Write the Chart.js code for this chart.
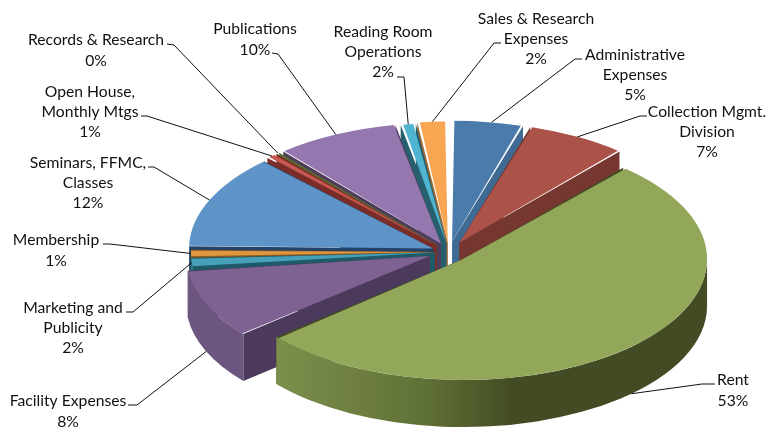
<!DOCTYPE html>
<html>
<head>
<meta charset="utf-8">
<script src="https://cdn.jsdelivr.net/npm/chart.js@4"></script>
<style>
html, body { margin: 0; padding: 0; background: #fff; overflow: hidden; }
canvas { display: block; }
</style>
</head>
<body>
<canvas id="pie" width="776" height="429"></canvas>
<script>
const categories = ["Administrative Expenses", "Collection Mgmt. Division", "Rent", "Facility Expenses",
  "Marketing and Publicity", "Membership", "Seminars, FFMC, Classes", "Open House, Monthly Mtgs",
  "Records & Research", "Publications", "Reading Room Operations", "Sales & Research Expenses"];
const shares = [4.7, 6.7, 52.5, 9.2, 1.25, 1.0, 12.5, 0.8, 0.2, 8.2, 1.0, 2.0];
const percentLabels = ["5%", "7%", "53%", "8%", "2%", "1%", "12%", "1%", "0%", "10%", "2%", "2%"];

const topColors = ["#4b7bab", "#ab5349", "#93a75a", "#7e6292", "#46a0b8", "#e0953f",
  "#5e94c8", "#c6584f", "#9bb05e", "#9477ae", "#50b4d0", "#f9a653"];
const sideColors = ["#3e6a94", "#763731", "#434b24", "#4b3a5c", "#1f5a68", "#8a5a20",
  "#234468", "#7a2d28", "#5a6a30", "#4f3d5e", "#265f6e", "#a06a30"];
const rimColors = ["#3e6a94", "#763731", "#434b24", "#6c5680", "#2e8496", "#b87a30",
  "#3f6f9f", "#7a2d28", "#5a6a30", "#4f3d5e", "#265f6e", "#a06a30"];
const explode = [62, 64, 60, 62, 42, 42, 52, 55, 55, 55, 50, 58];
// back to front
const drawOrder = [0, 11, 10, 9, 1, 8, 7, 6, 5, 4, 3, 2];

const CX = 449, CY = 252, RX = 244, RY = 121, DEPTH = 47;

// one entry per slice, same order as categories. [center x, first line y], elbow points, where the leader meets the rim
const labelLayout = [
  { lines: ["Administrative", "Expenses"], x: 635, y: 55, elbow: [[582, 59], [575, 59]], along: 0.55 },
  { lines: ["Collection Mgmt.", "Division"], x: 707, y: 112, elbow: [[647, 116], [640, 116]], along: 0.5 },
  { lines: ["Rent"], x: 733, y: 380, elbow: [[715, 384], [702, 384]], along: 0.505, low: 1 },
  { lines: ["Facility Expenses"], x: 68, y: 401, elbow: [[128, 405], [137, 405]], along: 0.5, low: 1 },
  { lines: ["Marketing and", "Publicity"], x: 73, y: 308, elbow: [[126, 312], [133, 312]], along: 0.5 },
  { lines: ["Membership"], x: 56, y: 240, elbow: [[103, 244], [110, 244]], along: 0.5 },
  { lines: ["Seminars, FFMC,", "Classes"], x: 88, y: 163, elbow: [[148, 167], [154, 167]], along: 0.5 },
  { lines: ["Open House,", "Monthly Mtgs"], x: 90, y: 92, elbow: [[141, 116], [147, 116]], along: 0.5 },
  { lines: ["Records & Research"], x: 96, y: 40, elbow: [[167, 44], [174, 45]], along: 0.5 },
  { lines: ["Publications"], x: 255, y: 29, elbow: [[272, 53], [278, 54]], along: 0.5 },
  { lines: ["Reading Room", "Operations"], x: 383, y: 32, elbow: [[397, 77], [404, 77]], along: 0.5 },
  { lines: ["Sales & Research", "Expenses"], x: 536, y: 19, elbow: [[501, 43], [494, 43]], along: 0.5 }
];

let baseRadius = 1;

function sliceGeom(el) {
  const sx = RX / baseRadius, sy = RY / baseRadius;
  const o = (el.options.offset || 0) / 4;
  const mid = (el.startAngle + el.endAngle) / 2;
  return {
    sx, sy, a1: el.startAngle, a2: el.endAngle,
    x: CX + sx * Math.cos(mid) * o, y: CY + sy * Math.sin(mid) * o,
    rx: RX, ry: RY
  };
}

function rimPoint(g, a) {
  return [g.x + g.rx * Math.cos(a), g.y + g.ry * Math.sin(a)];
}

function drawWall(ctx, g, a, color) {
  const p = rimPoint(g, a);
  ctx.fillStyle = color;
  ctx.beginPath();
  ctx.moveTo(g.x, g.y);
  ctx.lineTo(p[0], p[1]);
  ctx.lineTo(p[0], p[1] + DEPTH);
  ctx.lineTo(g.x, g.y + DEPTH);
  ctx.closePath();
  ctx.fill();
}

function drawRim(ctx, g, color) {
  const lo = Math.max(g.a1, 0), hi = Math.min(g.a2, Math.PI);
  if (hi <= lo) return;
  ctx.fillStyle = color;
  ctx.beginPath();
  ctx.ellipse(g.x, g.y, g.rx, g.ry, 0, lo, hi);
  ctx.ellipse(g.x, g.y + DEPTH, g.rx, g.ry, 0, hi, lo, true);
  ctx.closePath();
  ctx.fill();
}

const pie3d = {
  id: "pie3d",
  beforeDatasetDraw() {
    return false; // slices get drawn below, tilted
  },
  afterDatasetsDraw(chart) {
    const ctx = chart.ctx;
    const meta = chart.getDatasetMeta(0);
    const arcs = meta.data;
    baseRadius = meta.controller.outerRadius;
    drawOrder.forEach(i => {
      const el = arcs[i];
      const g = sliceGeom(el);
      drawWall(ctx, g, g.a1, sideColors[i]);
      drawWall(ctx, g, g.a2, sideColors[i]);
      let rim = rimColors[i];
      if (i === 2) {
        rim = ctx.createLinearGradient(277, 0, 707, 0);
        rim.addColorStop(0, "#7d8f4c");
        rim.addColorStop(0.35, "#5f7035");
        rim.addColorStop(0.55, "#434b24");
        rim.addColorStop(1, "#434b24");
      }
      drawRim(ctx, g, rim);
      // Chart.js grows an offset arc's radius, take that back out so all slices share one rim
      const o = (el.options.offset || 0) / 4;
      el.outerRadius = baseRadius - o * (1 - Math.sin(Math.min(Math.PI, el.circumference)));
      ctx.save();
      ctx.translate(CX, CY);
      ctx.scale(g.sx, g.sy);
      ctx.translate(-el.x, -el.y);
      el.draw(ctx);
      ctx.restore();
    });
    drawLabels(ctx, arcs);
  }
};

function drawLabels(ctx, arcs) {
  ctx.save();
  ctx.font = "15.7px Lato";
  ctx.textAlign = "center";
  ctx.textBaseline = "middle";
  ctx.fillStyle = "#111";
  ctx.strokeStyle = "#111";
  ctx.lineWidth = 1;
  labelLayout.forEach((lab, i) => {
    const g = sliceGeom(arcs[i]);
    const end = rimPoint(g, g.a1 + (g.a2 - g.a1) * lab.along);
    if (lab.low) end[1] += DEPTH;
    ctx.beginPath();
    ctx.moveTo(lab.elbow[0][0], lab.elbow[0][1]);
    ctx.lineTo(lab.elbow[1][0], lab.elbow[1][1]);
    ctx.lineTo(end[0], end[1]);
    ctx.stroke();
    lab.lines.concat(percentLabels[i]).forEach((t, n) => {
      // percent line sits a little lower than the name lines
      const isPct = n === lab.lines.length;
      ctx.fillText(t, lab.x, lab.y + n * 19.5 + (isPct ? 1 : 0));
    });
  });
  ctx.restore();
}

new Chart(document.getElementById("pie"), {
  type: "pie",
  data: {
    labels: categories,
    datasets: [{
      data: shares,
      backgroundColor: topColors,
      borderWidth: 0,
      offset: explode
    }]
  },
  options: {
    responsive: false,
    animation: false,
    events: [],
    plugins: { legend: { display: false }, tooltip: { enabled: false } }
  },
  plugins: [pie3d]
});
</script>
</body>
</html>
